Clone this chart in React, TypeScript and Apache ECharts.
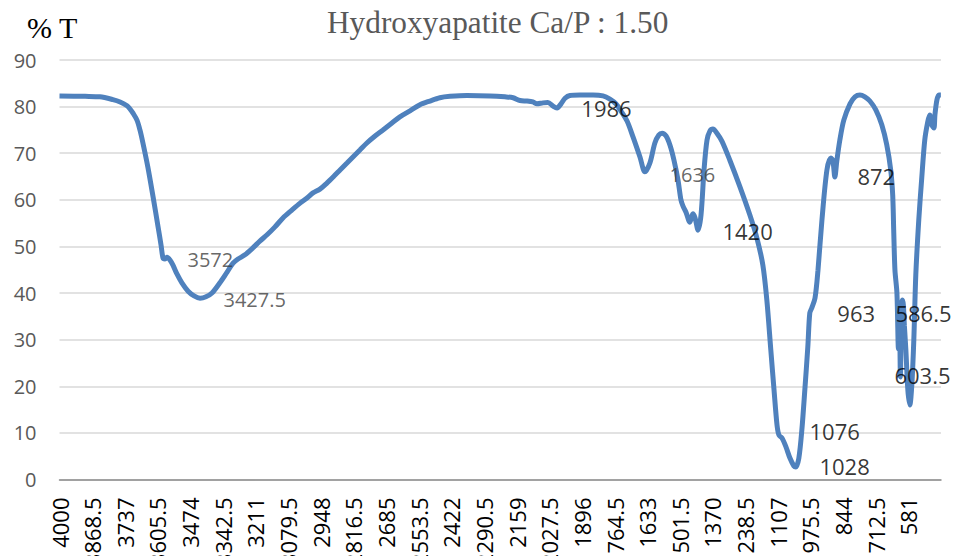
import React, { useEffect, useRef } from "react";
import * as echarts from "echarts";

// FTIR spectrum: wavenumber (cm-1) and transmittance (%T)
const wavenumbers = [
  4000, 3897, 3837, 3785, 3756, 3728, 3716, 3704, 3688, 3676, 3664, 3644, 3623, 3603, 3591, 3583,
  3575, 3567, 3555, 3543, 3527, 3507, 3482, 3458, 3434, 3410, 3386, 3354, 3325, 3301, 3281, 3253,
  3221, 3192, 3164, 3132, 3100, 3064, 3031, 3003, 2979, 2951, 2923, 2894, 2870, 2842, 2818, 2790,
  2762, 2729, 2697, 2661, 2629, 2588, 2548, 2508, 2468, 2427, 2359, 2266, 2206, 2173, 2145, 2117,
  2093, 2077, 2053, 2033, 2012, 1996, 1980, 1964, 1944, 1904, 1851, 1811, 1783, 1759, 1739, 1714,
  1690, 1662, 1642, 1622, 1602, 1586, 1573, 1557, 1541, 1525, 1509, 1497, 1489, 1477, 1461, 1449,
  1440, 1428, 1416, 1404, 1392, 1380, 1368, 1352, 1332, 1300, 1260, 1219, 1191, 1167, 1151, 1135,
  1122, 1110, 1102, 1090, 1074, 1058, 1042, 1034, 1022, 1010, 998, 986, 978, 970, 957, 945,
  929, 909, 893, 885, 877, 869, 857, 841, 816, 796, 776, 756, 736, 712, 688, 668,
  652, 644, 640, 635, 627, 621, 617, 613, 609, 605, 601, 597, 591, 583, 575, 567,
  559, 551, 539, 527, 515, 503, 495, 487, 478, 474, 466, 458, 450,
];
const transmittance = [
  82.3, 82.2, 82.1, 81.5, 81.0, 80.2, 79.5, 78.6, 77.1, 75.0, 72.2, 67.0, 60.6, 54.2, 50.3, 47.5,
  47.3, 47.7, 47.1, 46.0, 44.1, 42.2, 40.4, 39.4, 38.9, 39.2, 40.0, 42.2, 44.5, 46.4, 47.3, 48.2,
  49.7, 51.2, 52.5, 54.2, 56.1, 57.8, 59.3, 60.4, 61.5, 62.3, 63.6, 65.1, 66.4, 67.9, 69.2, 70.7,
  72.2, 73.7, 75.0, 76.5, 77.8, 79.1, 80.4, 81.2, 81.9, 82.2, 82.4, 82.3, 82.1, 81.9, 81.3, 81.2,
  81.0, 80.6, 80.8, 80.9, 80.1, 79.7, 80.6, 81.8, 82.4, 82.5, 82.5, 82.3, 81.6, 80.6, 79.1, 76.9,
  73.5, 69.2, 66.0, 67.9, 72.2, 73.9, 74.3, 73.7, 71.7, 68.5, 64.3, 60.0, 58.7, 57.4, 55.2, 57.0,
  56.1, 53.5, 56.8, 66.4, 72.8, 74.8, 75.2, 74.3, 72.6, 68.5, 62.9, 56.7, 51.8, 46.0, 38.5, 27.8,
  19.2, 11.7, 9.5, 8.9, 7.0, 4.6, 2.9, 2.7, 4.6, 10.6, 19.2, 28.4, 35.7, 36.8, 38.9, 44.9,
  55.7, 66.4, 69.0, 68.4, 64.9, 68.4, 72.8, 77.1, 80.6, 82.1, 82.5, 82.1, 81.2, 79.3, 76.1, 71.8,
  66.4, 61.0, 53.5, 44.9, 40.0, 28.0, 36.0, 22.0, 37.0, 38.5, 37.4, 33.0, 27.8, 19.2, 16.0, 20.3,
  29.9, 43.9, 55.7, 64.7, 72.8, 76.7, 78.2, 76.1, 75.4, 78.2, 81.4, 82.5, 82.5,
];

// Peak annotations: text, anchor wavenumber, anchor %T, dark (black) or grey
const peakLabels = ["3572", "3427.5", "1986", "1636", "1420", "872", "963", "586.5", "603.5", "1076", "1028"];
const peakLabelWavenumbers = [3482.5, 3337.5, 1896, 1541, 1328, 784, 865, 631, 635, 977, 937];
const peakLabelT = [47.1, 38.5, 79.5, 65.3, 53.1, 64.9, 35.7, 35.7, 22.4, 10.2, 2.7];
const peakLabelDark = [false, false, true, false, true, true, true, true, true, true, true];

const START_WN = 4000;
const TICK_STEP = 131.5;
const TICK_COUNT = 27;

const titleText = "Hydroxyapatite Ca/P : 1.50";
const yAxisTitle = "% T";

export default function App() {
  const ref = useRef<HTMLDivElement>(null);

  useEffect(() => {
    if (!ref.current) return;
    const chart = echarts.init(ref.current, undefined, { renderer: "svg" });
    const lineData = wavenumbers.map((w, i) => [START_WN - w, transmittance[i]]);
    const annData = peakLabels.map((t, i) => ({
      value: [START_WN - peakLabelWavenumbers[i], peakLabelT[i], t],
      label: {
        color: peakLabelDark[i] ? "#000000" : "#404040",
        fontSize: peakLabelDark[i] ? 22 : 20,
      },
    }));

    chart.setOption({
      animation: false,
      backgroundColor: "#ffffff",
      title: [
        {
          text: titleText,
          left: 327,
          top: 4,
          padding: 0,
          textStyle: {
            fontFamily: "Liberation Serif",
            fontSize: 31.3,
            fontWeight: "normal",
            color: "#595959",
            lineHeight: 36,
          },
        },
        {
          text: yAxisTitle,
          left: 27,
          top: 9,
          padding: 0,
          textStyle: {
            fontFamily: "Liberation Serif",
            fontSize: 30,
            fontWeight: "normal",
            color: "#000000",
            lineHeight: 36,
          },
        },
      ],
      grid: {
        left: 59.5,
        right: 21,
        top: 60,
        bottom: 76.5,
        containLabel: false,
        outerBoundsMode: "none",
      },
      xAxis: {
        type: "value",
        min: 0,
        max: TICK_STEP * TICK_COUNT,
        interval: TICK_STEP,
        axisLine: { show: true, lineStyle: { color: "#8c8c8c", width: 1.5 } },
        axisTick: { show: false },
        splitLine: { show: false },
        axisLabel: {
          rotate: 90,
          margin: 18,
          fontFamily: "Open Sans",
          fontSize: 22,
          color: "#000000",
          showMaxLabel: false,
          formatter: (v: number) => String(Math.round((START_WN - v) * 10) / 10),
        },
      },
      yAxis: {
        type: "value",
        min: 0,
        max: 90,
        interval: 10,
        axisLine: { show: false },
        axisTick: { show: false },
        splitLine: { show: true, lineStyle: { color: "#d9d9d9", width: 1.5 } },
        axisLabel: {
          margin: 23,
          fontFamily: "Open Sans",
          fontSize: 20,
          color: "#595959",
        },
      },
      series: [
        {
          type: "line",
          data: lineData,
          showSymbol: false,
          smooth: 0.3,
          lineStyle: { color: "#4F81BD", width: 5 },
          itemStyle: { color: "#4F81BD" },
          z: 2,
        },
        {
          type: "scatter",
          data: annData,
          symbolSize: 1,
          itemStyle: { color: "rgba(0,0,0,0)" },
          z: 3,
          label: {
            show: true,
            position: [0, 0],
            align: "left",
            verticalAlign: "middle",
            fontFamily: "Open Sans",
            formatter: (p: any) => p.value[2],
          },
        },
      ],
    });
    return () => chart.dispose();
  }, []);

  return (
    <div
      ref={ref}
      style={{ position: "fixed", left: 0, top: 0, width: 962, height: 556, background: "#fff" }}
    />
  );
}
